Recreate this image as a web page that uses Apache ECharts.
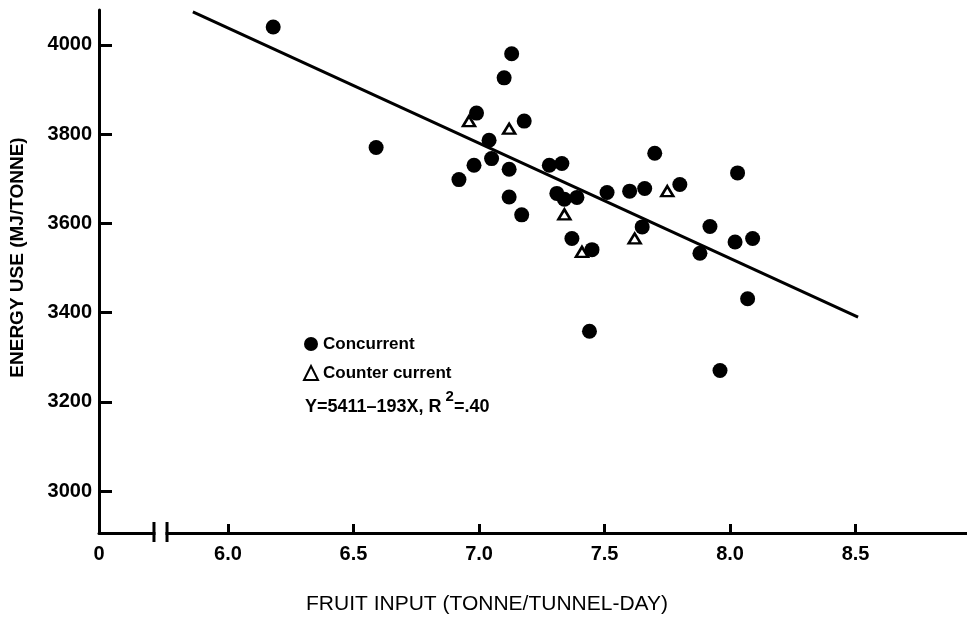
<!DOCTYPE html>
<html>
<head>
<meta charset="utf-8">
<title>Energy use vs fruit input</title>
<script src="https://cdn.jsdelivr.net/npm/echarts@6.0.0/dist/echarts.min.js"></script>
<style>
html, body { margin: 0; padding: 0; background: #fff; }
#main { width: 967px; height: 620px; }
</style>
</head>
<body>
<div id="main"></div>
<script>
// axis ticks
var xTicks = [6.0, 6.5, 7.0, 7.5, 8.0, 8.5];
var yTicks = [3000, 3200, 3400, 3600, 3800, 4000];
var xOrigin = 5.486;          // drawn as "0", the axis is broken just after it
var xBreak = [5.705, 5.757];  // where the two break marks sit
var xMax = 8.944;
var yMin = 2906;
var yMax = 4078;

// concurrent tunnels: [fruit input, energy use]
var concurrent = [
    [6.18, 4040], [6.59, 3770], [6.92, 3698], [6.98, 3730], [6.99, 3847],
    [7.04, 3786], [7.05, 3745], [7.10, 3926], [7.13, 3980], [7.12, 3721],
    [7.12, 3659], [7.17, 3619], [7.18, 3829], [7.28, 3730], [7.33, 3734],
    [7.31, 3667], [7.34, 3654], [7.39, 3658], [7.37, 3566], [7.45, 3541],
    [7.44, 3358], [7.51, 3669], [7.60, 3672], [7.66, 3678], [7.65, 3592],
    [7.70, 3757], [7.80, 3687], [8.03, 3713], [7.92, 3593], [8.02, 3558],
    [8.09, 3566], [7.88, 3533], [8.07, 3431], [7.96, 3270]
];
// counter current tunnels
var counterCurrent = [
    [6.96, 3829], [7.12, 3812], [7.34, 3620], [7.41, 3536], [7.62, 3566], [7.75, 3672]
];
// regression line as drawn (end points)
var fitLine = [[5.86, 4074], [8.51, 3390]];

var fontFamily = "'Liberation Sans', Arial, sans-serif";

var equation = {
    type: 'text',
    left: 305,
    top: 389,
    z: 100,
    style: {
        text: '{n|Y=5411–193X, R}{s|2}{n|=.40}',
        rich: {
            n: {fontSize: 18, fontWeight: 'bold', fill: '#000', fontFamily: fontFamily, lineHeight: 27, verticalAlign: 'bottom'},
            s: {fontSize: 15, fontWeight: 'bold', fill: '#000', fontFamily: fontFamily, lineHeight: 13, verticalAlign: 'top', padding: [0, 0, 0, 4]}
        }
    }
};

var dom = document.getElementById("main");
var myChart = echarts.init(dom);
var option = {
    backgroundColor: '#fff',
    animation: false,
    grid: {left: 98, right: 0, top: 10, bottom: 86},
    legend: {
        orient: 'vertical',
        left: 298,
        top: 329,
        itemWidth: 14,
        itemHeight: 14,
        itemGap: 9,
        textStyle: {fontSize: 17, fontWeight: 'bold', color: '#000', lineHeight: 20, fontFamily: fontFamily},
        data: [
            {name: 'Concurrent', icon: 'circle'},
            {name: 'Counter current', icon: 'triangle'}
        ]
    },
    xAxis: {
        type: 'value',
        min: xOrigin,
        max: xMax,
        name: 'FRUIT INPUT (TONNE/TUNNEL-DAY)',
        nameLocation: 'middle',
        nameGap: 61,
        nameTextStyle: {fontSize: 21, color: '#000', fontFamily: fontFamily, padding: [0, 92, 0, 0]},
        axisLine: {lineStyle: {color: '#000', width: 3}},
        axisTick: {show: true, inside: true, length: 9, customValues: xTicks, lineStyle: {color: '#000', width: 3}},
        axisLabel: {
            customValues: [xOrigin].concat(xTicks),
            margin: 11,
            color: '#000',
            fontSize: 20,
            fontWeight: 'bold',
            fontFamily: fontFamily,
            formatter: function (v) {
                return v < 5.9 ? '0' : v.toFixed(1);
            }
        },
        splitLine: {show: false}
    },
    yAxis: {
        type: 'value',
        min: yMin,
        max: yMax,
        name: 'ENERGY USE (MJ/TONNE)',
        nameLocation: 'middle',
        nameGap: 72,
        nameRotate: 90,
        nameTextStyle: {fontSize: 19, fontWeight: 'bold', color: '#000', fontFamily: fontFamily, padding: [0, 0, 0, 28]},
        axisLine: {show: true, lineStyle: {color: '#000', width: 3}},
        axisTick: {show: true, inside: true, length: 13, customValues: yTicks, lineStyle: {color: '#000', width: 3}},
        axisLabel: {
            customValues: yTicks,
            margin: 7,
            color: '#000',
            fontSize: 20,
            fontWeight: 'bold',
            fontFamily: fontFamily,
            formatter: function (v) {
                return String(v);
            }
        },
        splitLine: {show: false}
    },
    series: [
        {
            name: 'fit',
            type: 'line',
            data: fitLine,
            symbol: 'none',
            lineStyle: {color: '#000', width: 3},
            z: 1
        },
        {
            name: 'Concurrent',
            type: 'scatter',
            data: concurrent,
            symbol: 'circle',
            symbolSize: 15,
            itemStyle: {color: '#000', opacity: 1},
            z: 3
        },
        {
            name: 'Counter current',
            type: 'scatter',
            data: counterCurrent,
            symbol: 'triangle',
            symbolSize: [12, 10],
            itemStyle: {color: '#fff', borderColor: '#000', borderWidth: 2.5, opacity: 1},
            z: 4
        }
    ],
    graphic: [equation]
};
myChart.setOption(option);

// break marks on the x axis
var b0 = myChart.convertToPixel({xAxisIndex: 0}, xBreak[0]);
var b1 = myChart.convertToPixel({xAxisIndex: 0}, xBreak[1]);
var ay = myChart.convertToPixel({yAxisIndex: 0}, yMin);
myChart.setOption({
    graphic: [
        equation,
        {type: 'rect', z: 100, shape: {x: b0 + 1.5, y: ay - 3, width: b1 - b0 - 3, height: 6}, style: {fill: '#fff'}},
        {type: 'line', z: 101, shape: {x1: b0, y1: ay - 11, x2: b0, y2: ay + 9}, style: {stroke: '#000', lineWidth: 3}},
        {type: 'line', z: 101, shape: {x1: b1, y1: ay - 11, x2: b1, y2: ay + 9}, style: {stroke: '#000', lineWidth: 3}}
    ]
}, {replaceMerge: ['graphic']});
</script>
</body>
</html>
